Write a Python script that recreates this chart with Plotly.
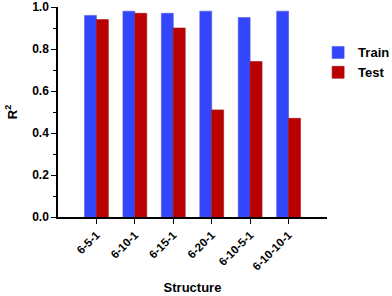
import plotly.graph_objects as go

structures = ["6-5-1", "6-10-1", "6-15-1", "6-20-1", "6-10-5-1", "6-10-10-1"]
train_r2 = [0.96, 0.98, 0.97, 0.98, 0.95, 0.98]
test_r2 = [0.94, 0.97, 0.90, 0.51, 0.74, 0.47]
y_ticks = [0.0, 0.2, 0.4, 0.6, 0.8, 1.0]
y_tick_labels = ["0.0", "0.2", "0.4", "0.6", "0.8", "1.0"]

fig = go.Figure()
fig.add_trace(go.Bar(x=structures, y=train_r2, name="Train",
                     marker=dict(color="#3346fb", line=dict(color="#4a5ad8", width=0.6))))
fig.add_trace(go.Bar(x=structures, y=test_r2, name="Test",
                     marker=dict(color="#bb0000", line=dict(color="#a01010", width=0.6))))

fnt = "Arial, Liberation Sans, sans-serif"
fig.update_layout(
    width=392, height=296,
    margin=dict(l=58, r=65, t=7, b=79, autoexpand=False),
    plot_bgcolor="white", paper_bgcolor="white",
    barmode="group", bargap=0.38, bargroupgap=0,
    font=dict(family=fnt, color="black"),
    legend=dict(x=0.967, y=0.855, xanchor="left", yanchor="top",
                font=dict(family=fnt, size=13, color="black", weight="bold"),
                itemwidth=30, tracegroupgap=0, bgcolor="rgba(0,0,0,0)"),
)
fig.update_xaxes(
    type="category", range=[-1, 6], automargin=False,
    showline=True, linecolor="black", linewidth=1.5,
    ticks="outside", ticklen=5, tickwidth=1.2, tickcolor="black",
    tickangle=-45, tickfont=dict(family=fnt, size=11.5, color="black", weight="bold"),
    title=dict(text="Structure", font=dict(family=fnt, size=13, weight="bold"), standoff=11),
    showgrid=False, zeroline=False,
)
fig.update_yaxes(
    range=[0, 1.0], tickvals=y_ticks, ticktext=y_tick_labels, automargin=False,
    ticklabeloverflow="allow",
    showline=True, linecolor="black", linewidth=1.5,
    ticks="outside", ticklen=5, tickwidth=1.2, tickcolor="black",
    minor=dict(dtick=0.1, ticks="outside", ticklen=3, tickcolor="black", tickwidth=1),
    tickfont=dict(family=fnt, size=12, color="black", weight="bold"),
    title=dict(text="R<sup>2</sup>", font=dict(family=fnt, size=13, weight="bold"), standoff=12),
    showgrid=False, zeroline=False,
)
fig.write_html("out.html", config={"displayModeBar": False},
               post_script="document.body.style.margin='0';")
